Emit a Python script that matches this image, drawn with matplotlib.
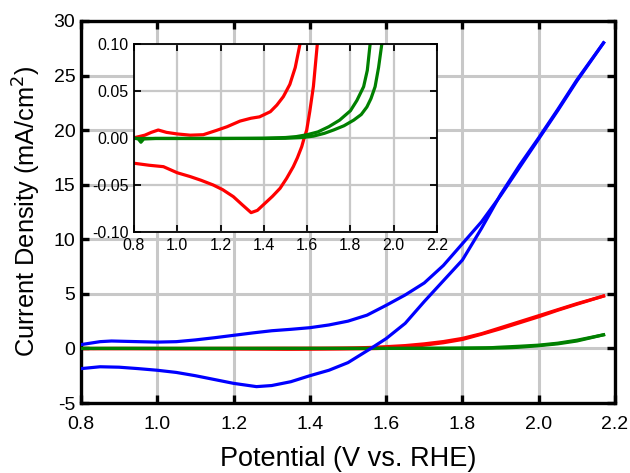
import matplotlib
matplotlib.use("Agg")
import matplotlib.pyplot as plt

plt.rcParams['font.family'] = ['Liberation Sans', 'DejaVu Sans']
plt.rcParams['axes.unicode_minus'] = False

# blue: forward (upper) and reverse (lower) branches, mA/cm2
blue_fwd_v = [0.80, 0.85, 0.88, 0.95, 1.00, 1.05, 1.10, 1.15, 1.20, 1.25, 1.30, 1.35,
              1.40, 1.45, 1.50, 1.55, 1.60, 1.65, 1.70, 1.75, 1.80, 1.85, 1.90, 1.95,
              2.00, 2.05, 2.10, 2.17]
blue_fwd_j = [0.35, 0.62, 0.68, 0.62, 0.58, 0.62, 0.78, 0.98, 1.20, 1.42, 1.62, 1.75,
              1.90, 2.15, 2.50, 3.05, 3.95, 4.90, 6.00, 7.60, 9.60, 11.6, 14.0, 16.6,
              19.2, 21.8, 24.5, 28.0]
blue_rev_v = [2.17, 2.10, 2.05, 2.00, 1.95, 1.90, 1.85, 1.80, 1.75, 1.70, 1.65, 1.60,
              1.56, 1.50, 1.45, 1.40, 1.35, 1.30, 1.26, 1.20, 1.15, 1.10, 1.05, 1.00,
              0.95, 0.90, 0.85, 0.80]
blue_rev_j = [28.0, 24.6, 21.9, 19.3, 16.8, 14.1, 11.0, 8.1, 6.2, 4.3, 2.3, 0.9,
              0.0, -1.3, -2.0, -2.5, -3.05, -3.4, -3.5, -3.2, -2.85, -2.5, -2.2, -2.0,
              -1.85, -1.72, -1.68, -1.85]

# red
red_fwd_v = [0.805, 0.85, 0.88, 0.912, 0.95, 1.0, 1.06, 1.12, 1.18, 1.23, 1.29, 1.34,
             1.38, 1.43, 1.46, 1.49, 1.52, 1.545, 1.567, 1.6, 1.65, 1.7, 1.75, 1.8,
             1.85, 1.9, 1.95, 2.0, 2.05, 2.1, 2.17]
red_fwd_j = [0.0005, 0.003, 0.006, 0.0085, 0.006, 0.0043, 0.003, 0.0035, 0.008, 0.012,
             0.018, 0.021, 0.0225, 0.028, 0.035, 0.044, 0.057, 0.075, 0.10, 0.16, 0.26,
             0.42, 0.63, 0.92, 1.35, 1.9, 2.45, 3.0, 3.55, 4.1, 4.8]
red_rev_v = [2.17, 2.1, 2.05, 2.0, 1.95, 1.9, 1.85, 1.8, 1.75, 1.7, 1.67, 1.647, 1.629,
             1.612, 1.598, 1.585, 1.575, 1.555, 1.536, 1.505, 1.475, 1.44, 1.398, 1.37,
             1.341, 1.3, 1.259, 1.21, 1.166, 1.11, 1.059, 1.0, 0.936, 0.87, 0.805]
red_rev_j = [4.8, 4.05, 3.5, 2.9, 2.35, 1.8, 1.3, 0.82, 0.52, 0.3, 0.17, 0.10, 0.055,
             0.028, 0.0085, -0.001, -0.0092, -0.021, -0.0305, -0.043, -0.0535, -0.062,
             -0.071, -0.077, -0.0794, -0.071, -0.0624, -0.055, -0.05, -0.045, -0.041,
             -0.037, -0.0305, -0.029, -0.027]

# green
green_a_v = [0.8, 0.82, 0.832, 0.845, 0.9, 1.0, 1.1, 1.2, 1.3, 1.4, 1.5, 1.55, 1.6,
             1.65, 1.7, 1.75, 1.8, 1.83, 1.861, 1.878, 1.891, 1.95, 2.0, 2.05, 2.1, 2.17]
green_a_j = [0.0, -0.001, -0.0045, -0.001, -0.0005, -0.0005, -0.0005, -0.0005, -0.0004,
             -0.0002, 0.0005, 0.0015, 0.0035, 0.0065, 0.012, 0.019, 0.029, 0.04, 0.0546,
             0.072, 0.10, 0.2, 0.3, 0.48, 0.75, 1.25]
green_b_v = [2.17, 2.1, 2.05, 2.0, 1.945, 1.93, 1.914, 1.895, 1.876, 1.85, 1.815, 1.77,
             1.722, 1.68, 1.629, 1.58, 1.5, 1.4, 1.2, 1.0, 0.9, 0.8]
green_b_j = [1.25, 0.68, 0.42, 0.25, 0.10, 0.075, 0.0546, 0.042, 0.033, 0.025, 0.019,
             0.013, 0.0085, 0.005, 0.002, 0.0005, -0.0003, -0.0005, -0.0005, -0.0005,
             -0.0005, -0.0005]

x_ticks = [0.8, 1.0, 1.2, 1.4, 1.6, 1.8, 2.0, 2.2]
y_ticks = [-5, 0, 5, 10, 15, 20, 25, 30]
inset_y_ticks = [-0.10, -0.05, 0.0, 0.05, 0.10]

BLUE, RED, GREEN = '#0000ff', '#ff0000', '#008000'
GRID = '#c8c8c8'

fig = plt.figure(figsize=(6.3, 4.73), dpi=100)
ax = fig.add_axes([81 / 630, 1 - 403 / 473, 534 / 630, 382 / 473])

ax.plot(red_fwd_v, red_fwd_j, color=RED, lw=2.3, zorder=2)
ax.plot(red_rev_v, red_rev_j, color=RED, lw=2.3, zorder=2)
ax.plot(green_a_v, green_a_j, color=GREEN, lw=2.3, zorder=3)
ax.plot(green_b_v, green_b_j, color=GREEN, lw=2.3, zorder=3)
ax.plot(blue_fwd_v, blue_fwd_j, color=BLUE, lw=2.3, zorder=4)
ax.plot(blue_rev_v, blue_rev_j, color=BLUE, lw=2.3, zorder=4)

ax.set_xlim(0.8, 2.2)
ax.set_ylim(-5, 30)
ax.set_xticks(x_ticks)
ax.set_xticklabels([f"{v:.1f}" for v in x_ticks])
ax.set_yticks(y_ticks)
ax.set_yticklabels([str(v) for v in y_ticks])
ax.grid(True, color=GRID, lw=2.2, zorder=0)
ax.set_axisbelow(True)
ax.tick_params(direction='in', length=6, width=2.4, top=True, right=True,
               labelsize=14, colors='black')
ax.tick_params(axis='x', pad=9)
ax.tick_params(axis='y', pad=4)
for s in ax.spines.values():
    s.set_linewidth(2.4)

fig.text(348 / 630, 1 - 466 / 473, "Potential (V vs. RHE)", fontsize=19.5,
         ha='center', va='baseline')
fig.text(27 / 630, 1 - 211 / 473, "Current Density (mA/cm$^2$)", fontsize=18.3,
         rotation=90, ha='center', va='center')

# inset
axin = fig.add_axes([134 / 630, 1 - 232 / 473, 303 / 630, 188 / 473])
axin.plot(red_fwd_v, red_fwd_j, color=RED, lw=2.3)
axin.plot(red_rev_v, red_rev_j, color=RED, lw=2.3)
axin.plot(green_a_v, green_a_j, color=GREEN, lw=2.3)
axin.plot(green_b_v, green_b_j, color=GREEN, lw=2.3)
axin.set_xlim(0.8, 2.2)
axin.set_ylim(-0.1, 0.1)
axin.set_xticks(x_ticks)
axin.set_xticklabels([f"{v:.1f}" for v in x_ticks])
axin.set_yticks(inset_y_ticks)
axin.set_yticklabels([f"{v:.2f}" for v in inset_y_ticks])
axin.grid(True, color=GRID, lw=1.6)
axin.set_axisbelow(True)
axin.tick_params(direction='in', length=5, width=1.3, top=True, right=True,
                 labelsize=11.5, pad=4, colors='black')
for s in axin.spines.values():
    s.set_linewidth(1.3)

fig.savefig("out.png", dpi=100)
